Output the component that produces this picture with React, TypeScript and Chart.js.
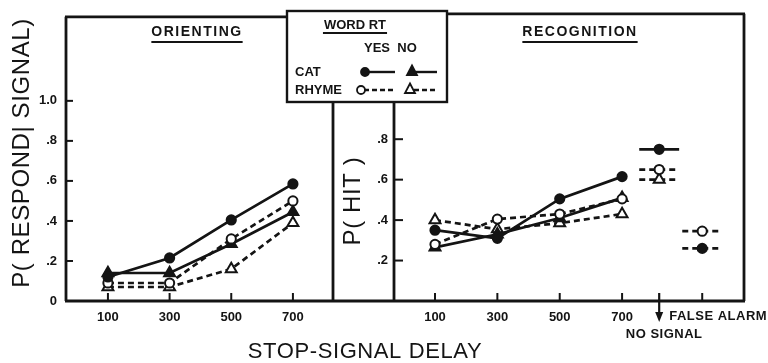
import React, { useEffect, useRef } from 'react';
import { Chart, registerables } from 'chart.js';
Chart.register(...registerables);

// ---------- data ----------
const delays = [100, 300, 500, 700];

const orientCatYes = [0.12, 0.215, 0.405, 0.585];
const orientCatNo = [0.14, 0.14, 0.285, 0.445];
const orientRhymeYes = [0.09, 0.09, 0.31, 0.5];
const orientRhymeNo = [0.07, 0.07, 0.16, 0.39];

const recogCatYes = [0.35, 0.31, 0.505, 0.615];
const recogCatNo = [0.265, 0.33, 0.41, 0.51];
const recogRhymeYes = [0.28, 0.405, 0.43, 0.505];
const recogRhymeNo = [0.4, 0.355, 0.385, 0.43];

const noSignalX = 819;
const falseAlarmX = 957;
const noSignalCatYes = 0.75;
const noSignalRhymeYes = 0.65;
const noSignalRhymeNo = 0.6;
const falseAlarmRhymeYes = 0.345;
const falseAlarmCatYes = 0.26;

const leftYTicks = [0, 0.2, 0.4, 0.6, 0.8, 1.0];
const rightYTicks = [0.2, 0.4, 0.6, 0.8];

const leftTitle = 'ORIENTING';
const rightTitle = 'RECOGNITION';
const leftYLabel = 'P( RESPOND| SIGNAL)';
const rightYLabel = 'P( HIT )';
const xLabel = 'STOP-SIGNAL DELAY';
const noSignalLabel = 'NO SIGNAL';
const falseAlarmLabel = 'FALSE ALARM';
const legendTitle = 'WORD RT';
const legendCols = ['YES', 'NO'];
const legendRows = ['CAT', 'RHYME'];

// ---------- styling ----------
const INK = '#141414';
const FONT = '"Liberation Sans", Arial, sans-serif';
const SEG_HALF = 64;

function series(label: string, xs: number[], ys: number[], filled: boolean, tri: boolean, dashed: boolean, radii?: number[]) {
  const r = tri ? 6.3 : 4.6;
  return {
    label,
    data: xs.map((x, i) => ({ x, y: ys[i] })),
    borderColor: INK,
    backgroundColor: filled ? INK : '#fff',
    borderWidth: 2.7,
    borderDash: dashed ? [6, 4] : [],
    pointStyle: tri ? 'triangle' : 'circle',
    pointRadius: radii ? radii.map((v) => v * r) : r,
    pointBorderWidth: 2,
    pointBackgroundColor: filled ? INK : '#fff',
    pointBorderColor: INK,
    tension: 0,
    fill: false,
  };
}

function segment(label: string, cx: number, y: number, filled: boolean, tri: boolean, dashed: boolean) {
  return series(label, [cx - SEG_HALF, cx, cx + SEG_HALF], [y, y, y], filled, tri, dashed, [0, 1, 0]);
}

function yTickLabel(v: number) {
  if (v === 0) return '0';
  if (Math.abs(v - 1) < 1e-9) return '1.0';
  return '.' + Math.round(v * 10);
}

function text(ctx: CanvasRenderingContext2D, s: string, x: number, y: number, font: string, align: CanvasTextAlign = 'center', spacing = '0px') {
  ctx.save();
  ctx.font = font;
  (ctx as any).letterSpacing = spacing;
  ctx.fillStyle = INK;
  ctx.textAlign = align;
  ctx.textBaseline = 'middle';
  ctx.fillText(s, x, y);
  ctx.restore();
}

function line(ctx: CanvasRenderingContext2D, x1: number, y1: number, x2: number, y2: number, w = 2.8) {
  ctx.save();
  ctx.strokeStyle = INK;
  ctx.lineWidth = w;
  ctx.beginPath();
  ctx.moveTo(x1, y1);
  ctx.lineTo(x2, y2);
  ctx.stroke();
  ctx.restore();
}

function underlinedTitle(ctx: CanvasRenderingContext2D, s: string, cx: number, y: number) {
  const font = `bold 14px ${FONT}`;
  ctx.save();
  ctx.font = font;
  (ctx as any).letterSpacing = '1.5px';
  const w = ctx.measureText(s).width;
  ctx.restore();
  text(ctx, s, cx, y, font, 'center', '1.5px');
  line(ctx, cx - w / 2, y + 10, cx + w / 2, y + 10, 2);
}

function drawMarker(ctx: CanvasRenderingContext2D, x: number, y: number, filled: boolean, tri: boolean) {
  ctx.save();
  ctx.fillStyle = filled ? INK : '#fff';
  ctx.strokeStyle = INK;
  ctx.lineWidth = 1.8;
  ctx.beginPath();
  if (tri) {
    ctx.moveTo(x, y - 5.5);
    ctx.lineTo(x + 5, y + 4);
    ctx.lineTo(x - 5, y + 4);
    ctx.closePath();
  } else {
    ctx.arc(x, y, 4, 0, Math.PI * 2);
  }
  ctx.fill();
  ctx.stroke();
  ctx.restore();
}

const framePlugin = {
  id: 'frame',
  afterDraw(chart: any) {
    const ctx: CanvasRenderingContext2D = chart.ctx;
    const side = chart.options.plugins.frame.side;
    const ca = chart.chartArea;
    const xs = chart.scales.x;
    const ys = chart.scales.y;
    const legendBottom = 102;
    if (side === 'left') {
      line(ctx, ca.left, ca.top, ca.left, ca.bottom);
      line(ctx, ca.left - 1, ca.top, ca.right, ca.top);
      line(ctx, ca.right, legendBottom, ca.right, ca.bottom);
      line(ctx, ca.left - 1, ca.bottom, ca.right, ca.bottom);
      leftYTicks.slice(1).forEach((v) => {
        const py = ys.getPixelForValue(v);
        line(ctx, ca.left, py, ca.left + 7, py, 2);
      });
      delays.forEach((v) => {
        const px = xs.getPixelForValue(v);
        line(ctx, px, ca.bottom, px, ca.bottom - 8, 2);
      });
      underlinedTitle(ctx, leftTitle, 197, 32);
      ctx.save();
      ctx.translate(22, 153);
      ctx.rotate(-Math.PI / 2);
      text(ctx, leftYLabel, 0, 0, `24px ${FONT}`, 'center', '0.6px');
      ctx.restore();
      text(ctx, xLabel, 365, 352, `22px ${FONT}`, 'center', '0.6px');
    } else {
      const leftEdge = 333;
      line(ctx, ca.left, legendBottom, ca.left, ca.bottom);
      line(ctx, leftEdge, ca.top, ca.right + 1, ca.top);
      line(ctx, ca.right, ca.top, ca.right, ca.bottom);
      line(ctx, leftEdge, ca.bottom, ca.right + 1, ca.bottom);
      rightYTicks.forEach((v) => {
        const py = ys.getPixelForValue(v);
        line(ctx, ca.left, py, ca.left + 9, py, 2);
      });
      [...delays, falseAlarmX].forEach((v) => {
        const px = xs.getPixelForValue(v);
        line(ctx, px, ca.bottom, px, ca.bottom - 8, 2);
      });
      const ax = xs.getPixelForValue(noSignalX);
      line(ctx, ax, ca.bottom - 8, ax, ca.bottom + 14, 2.2);
      ctx.save();
      ctx.fillStyle = INK;
      ctx.beginPath();
      ctx.moveTo(ax - 4, ca.bottom + 11);
      ctx.lineTo(ax + 4, ca.bottom + 11);
      ctx.lineTo(ax, ca.bottom + 21);
      ctx.closePath();
      ctx.fill();
      ctx.restore();
      text(ctx, falseAlarmLabel, ax + 10, 316, `bold 13px ${FONT}`, 'left', '0.5px');
      text(ctx, noSignalLabel, ax + 5, 334, `bold 13px ${FONT}`, 'center', '0.5px');
      underlinedTitle(ctx, rightTitle, 580, 32);
      ctx.save();
      ctx.translate(353, 201);
      ctx.rotate(-Math.PI / 2);
      text(ctx, rightYLabel, 0, 0, `24px ${FONT}`, 'center', '0.6px');
      ctx.restore();

      // legend box
      const bx = 287, by = 11, bw = 160, bh = legendBottom - by;
      ctx.save();
      ctx.fillStyle = '#fff';
      ctx.fillRect(bx, by, bw, bh);
      ctx.strokeStyle = INK;
      ctx.lineWidth = 2.4;
      ctx.strokeRect(bx, by, bw, bh);
      ctx.restore();
      const lf = `bold 13px ${FONT}`;
      ctx.save();
      ctx.font = lf;
      const tw = ctx.measureText(legendTitle).width;
      ctx.restore();
      text(ctx, legendTitle, 355, 25, lf);
      line(ctx, 355 - tw / 2 - 1, 33, 355 + tw / 2 + 1, 33, 1.8);
      text(ctx, legendCols[0], 377, 48, lf);
      text(ctx, legendCols[1], 407, 48, lf);
      text(ctx, legendRows[0], 295, 72, lf, 'left');
      text(ctx, legendRows[1], 295, 90, lf, 'left');
      line(ctx, 365, 72, 395, 72, 2.4);
      drawMarker(ctx, 365, 72, true, false);
      line(ctx, 412, 72, 437, 72, 2.4);
      drawMarker(ctx, 412, 71, true, true);
      ctx.save();
      ctx.setLineDash([5, 3]);
      line(ctx, 364, 90, 395, 90, 2.4);
      line(ctx, 414, 90, 437, 90, 2.4);
      ctx.restore();
      drawMarker(ctx, 361, 90, false, false);
      drawMarker(ctx, 410, 89, false, true);
    }
  },
};

function baseOptions(side: 'left' | 'right', xMin: number, xMax: number, padding: any, yWidth: number, yPad: number, yTicks: number[]) {
  const tickFont = { family: FONT, size: 13, weight: 'bold' as const };
  return {
    responsive: false,
    animation: false as const,
    events: [],
    layout: { padding },
    plugins: {
      legend: { display: false },
      tooltip: { enabled: false },
      frame: { side },
    },
    scales: {
      x: {
        type: 'linear' as const,
        min: xMin,
        max: xMax,
        afterBuildTicks: (s: any) => {
          s.ticks = delays.map((v) => ({ value: v }));
        },
        afterFit: (s: any) => {
          s.height = 62;
        },
        grid: { display: false, drawTicks: false },
        border: { display: false },
        ticks: {
          padding: 9,
          color: INK,
          font: tickFont,
          maxRotation: 0,
          autoSkip: false,
          callback: (v: any) => String(v),
        },
      },
      y: {
        type: 'linear' as const,
        min: 0,
        max: 1.42,
        afterBuildTicks: (s: any) => {
          s.ticks = yTicks.map((v) => ({ value: v }));
        },
        afterFit: (s: any) => {
          s.width = yWidth;
        },
        grid: { display: false, drawTicks: false },
        border: { display: false },
        ticks: {
          padding: yPad,
          color: INK,
          font: tickFont,
          autoSkip: false,
          callback: (v: any) => yTickLabel(Number(v)),
        },
      },
    },
  };
}

export default function App() {
  const leftRef = useRef<HTMLCanvasElement>(null);
  const rightRef = useRef<HTMLCanvasElement>(null);

  useEffect(() => {
    const left = new Chart(leftRef.current as HTMLCanvasElement, {
      type: 'line',
      data: {
        datasets: [
          series('Cat Yes', delays, orientCatYes, true, false, false),
          series('Rhyme Yes', delays, orientRhymeYes, false, false, true),
          series('Cat No', delays, orientCatNo, true, true, false),
          series('Rhyme No', delays, orientRhymeNo, false, true, true),
        ] as any,
      },
      options: baseOptions('left', -36, 830, { left: 10, right: 435, top: 10, bottom: 0 }, 56, 9, leftYTicks) as any,
      plugins: [framePlugin],
    });
    const right = new Chart(rightRef.current as HTMLCanvasElement, {
      type: 'line',
      data: {
        datasets: [
          series('Cat Yes', delays, recogCatYes, true, false, false),
          series('Rhyme Yes', delays, recogRhymeYes, false, false, true),
          series('Cat No', delays, recogCatNo, true, true, false),
          series('Rhyme No', delays, recogRhymeNo, false, true, true),
          segment('No signal Cat Yes', noSignalX, noSignalCatYes, true, false, false),
          segment('No signal Rhyme Yes', noSignalX, noSignalRhymeYes, false, false, true),
          segment('No signal Rhyme No', noSignalX, noSignalRhymeNo, false, true, true),
          segment('False alarm Rhyme Yes', falseAlarmX, falseAlarmRhymeYes, false, false, true),
          segment('False alarm Cat Yes', falseAlarmX, falseAlarmCatYes, true, false, true),
        ] as any,
      },
      options: baseOptions('right', -31.5, 1091, { left: 344, right: 24, top: 10, bottom: 0 }, 50, 6, rightYTicks) as any,
      plugins: [framePlugin],
    });
    return () => {
      left.destroy();
      right.destroy();
    };
  }, []);

  const style: React.CSSProperties = { position: 'absolute', left: 0, top: 0, width: 768, height: 363 };
  return (
    <div style={{ position: 'absolute', left: 0, top: 0, width: 768, height: 363, background: '#fff' }}>
      <canvas ref={leftRef} width={768} height={363} style={style} />
      <canvas ref={rightRef} width={768} height={363} style={style} />
    </div>
  );
}
